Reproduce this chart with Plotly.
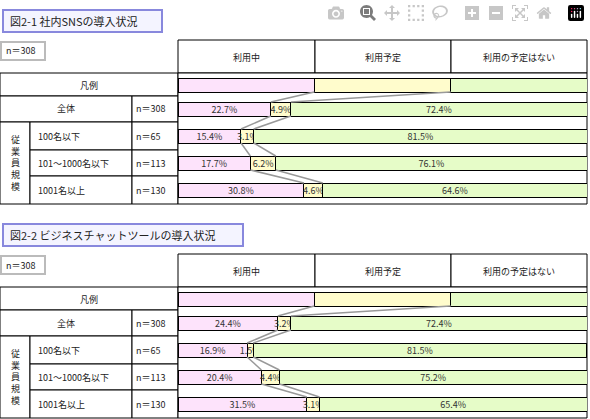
import plotly.graph_objects as go

cols = ["利用中", "利用予定", "利用の予定はない"]
rows = ["全体", "100名以下", "101～1000名以下", "1001名以上"]
ns = ["n＝308", "n＝65", "n＝113", "n＝130"]
sns_use = [22.7, 15.4, 17.7, 30.8]
sns_plan = [4.9, 3.1, 6.2, 4.6]
sns_no = [72.4, 81.5, 76.1, 64.6]
chat_use = [24.4, 16.9, 20.4, 31.5]
chat_plan = [3.2, 1.5, 4.4, 3.1]
chat_no = [72.4, 81.5, 75.2, 65.4]
titles = ["図2-1 社内SNSの導入状況", "図2-2 ビジネスチャットツールの導入状況"]
colors = ["#fde3fb", "#fffccc", "#e6fcc8"]
F = "Noto Sans CJK JP"

W, H = 590, 419
fig = go.Figure()
shapes, ann = [], []

def px(x): return x / W
def py(y): return 1 - y / H

def rect(x0, y0, x1, y1, fill="white", line="black", w=1):
    shapes.append(dict(type="rect", xref="paper", yref="paper", x0=px(x0), x1=px(x1),
                       y0=py(y1), y1=py(y0), fillcolor=fill, line=dict(color=line, width=w), layer="below"))

def text(x, y, s, size=10, anchor="center"):
    ann.append(dict(xref="paper", yref="paper", x=px(x), y=py(y), text=s, showarrow=False,
                    xanchor=anchor, yanchor="middle", font=dict(family=F, size=size, color="#222")))

panels = [(0, sns_use, sns_plan, sns_no), (214, chat_use, chat_plan, chat_no)]
for i, (off, u, p, n) in enumerate(panels):
    rect(3, 10 + off, 162 if i == 0 else 243, 32 + off, fill="#f4f4ff", line="#8888dd", w=2)
    text(8, 21 + off, titles[i], 11, "left")
    rect(1, 42 + off, 45, 60 + off, fill="white", line="#bbbbbb", w=2)
    text(4, 51 + off, "n＝308", 9, "left")
    # header
    xs = [178, 315, 451, 587]
    for k in range(3):
        rect(xs[k], 40 + off, xs[k + 1], 73 + off)
        text((xs[k] + xs[k + 1]) / 2, 57 + off, cols[k], 9)
    # left table
    rect(0, 73 + off, 178, 96 + off)
    text(89, 85 + off, "凡例", 9)
    rect(0, 96 + off, 132, 122 + off); rect(132, 96 + off, 178, 122 + off)
    text(66, 109 + off, rows[0], 9); text(134, 109 + off, ns[0], 9, "left")
    ys = [122, 150, 176, 204]
    rect(0, 122 + off, 30, 204 + off)
    text(15, 163 + off, "従<br>業<br>員<br>規<br>模", 9)
    for r in range(3):
        rect(30, ys[r] + off, 132, ys[r + 1] + off); rect(132, ys[r] + off, 178, ys[r + 1] + off)
        text(36, (ys[r] + ys[r + 1]) / 2 + off, rows[r + 1], 9, "left")
        text(134, (ys[r] + ys[r + 1]) / 2 + off, ns[r + 1], 9, "left")
    rect(178, 73 + off, 587, 204 + off, line="black")
    # bars
    cy = [85 + off] + [109 + off, 136 + off, 163 + off, 190 + off]
    vals = [[100 / 3] + u, [100 / 3] + p, [100 / 3] + n]
    for k in range(3):
        fig.add_trace(go.Bar(y=cy, x=vals[k], orientation="h", width=14, marker=dict(color=colors[k],
                             line=dict(color="black", width=1)),
                             text=[""] + [f"{v:.1f}%" for v in vals[k][1:]], textposition="inside",
                             insidetextanchor="middle", textangle=0, constraintext="none",
                             textfont=dict(family=F, size=9, color="#333"),
                             cliponaxis=False, showlegend=False))
    # connector lines
    for j in range(4):
        for c in range(2):
            a = sum(vals[q][j] for q in range(c + 1)); b = sum(vals[q][j + 1] for q in range(c + 1))
            fig.add_trace(go.Scatter(x=[a, b], y=[cy[j] + 7, cy[j + 1] - 7], mode="lines",
                                     line=dict(color="#999999", width=1.5), showlegend=False, hoverinfo="skip"))

fig.update_layout(width=W, height=H, margin=dict(l=0, r=0, t=0, b=0), plot_bgcolor="rgba(0,0,0,0)",
                  paper_bgcolor="white", barmode="stack", shapes=shapes, annotations=ann,
                  xaxis=dict(domain=[px(178), px(587)], range=[0, 100], visible=False),
                  yaxis=dict(domain=[0, 1], range=[H, 0], visible=False),
                  uniformtext=dict(minsize=7, mode="show"))
fig.write_html("out.html", post_script="document.body.style.margin='0';document.body.style.overflow='hidden';")
